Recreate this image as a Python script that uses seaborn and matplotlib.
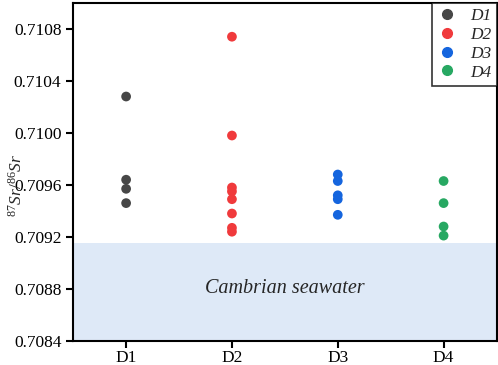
import pandas as pd
import numpy as np
import matplotlib
matplotlib.use("Agg")
import matplotlib.pyplot as plt
from matplotlib.lines import Line2D
import seaborn as sns

# --- data ---
sites = ["D1", "D2", "D3", "D4"]
d1 = [0.71028, 0.70964, 0.70957, 0.70946]
d2 = [0.71074, 0.70998, 0.70958, 0.70955, 0.70949, 0.70938, 0.70927, 0.70924]
d3 = [0.70968, 0.70963, 0.70952, 0.70949, 0.70937]
d4 = [0.70963, 0.70946, 0.70928, 0.70921]
seawater_top = 0.70915
colors = ["#474747", "#f03a3c", "#1565de", "#27a862"]

rows = []
for s, vals in zip(sites, [d1, d2, d3, d4]):
    for v in vals:
        rows.append({"site": s, "ratio": v})
df = pd.DataFrame(rows)

sns.set_style("ticks")
plt.rcParams["font.family"] = ["Liberation Serif", "DejaVu Serif"]
plt.rcParams["mathtext.fontset"] = "custom"
plt.rcParams["mathtext.rm"] = "Liberation Serif"
plt.rcParams["mathtext.it"] = "Liberation Serif:italic"

fig, ax = plt.subplots(figsize=(4.98, 3.65), dpi=100)
fig.subplots_adjust(left=0.147, right=0.997, bottom=0.066, top=0.992)

ax.axhspan(0.7084, seawater_top, color="#dee9f7", zorder=0, lw=0)

sns.stripplot(data=df, x="site", y="ratio", hue="site", order=sites,
              palette=colors, jitter=False, size=7, linewidth=0,
              legend=False, ax=ax, zorder=3)

ax.text(1.5, 0.7088, "Cambrian seawater", style="italic", fontsize=14.5,
        ha="center", va="center")

ticks = np.arange(0.7084, 0.71081, 0.0004)
ax.set_xlim(-0.5, 3.5)
ax.set_ylim(0.7084, 0.7110)
ax.set_yticks(ticks)
ax.set_yticklabels([f"{t:.4f}" for t in ticks])
ax.set_xlabel("")
ax.set_ylabel(r"$^{87}\mathit{Sr}/^{86}\mathit{Sr}$", fontsize=12.5)
ax.yaxis.set_label_coords(-0.112, 0.46)
ax.tick_params(labelsize=12.5, width=1.5, length=5, colors="black")
ax.tick_params(axis="x", pad=1.5)

for sp in ax.spines.values():
    sp.set_visible(True)
    sp.set_linewidth(1.5)
    sp.set_color("black")

handles = [Line2D([], [], marker="o", ls="none", color=c, markersize=7)
           for c in colors]
leg = ax.legend(handles, sites, loc="upper right", borderaxespad=0,
                frameon=True, fancybox=False, prop={"style": "italic", "size": 12.5},
                handletextpad=0.7, labelspacing=0.15, borderpad=0.3,
                handlelength=1.2)
leg.get_frame().set_edgecolor("black")
leg.get_frame().set_linewidth(1.2)

plt.savefig("out.png", dpi=100)
